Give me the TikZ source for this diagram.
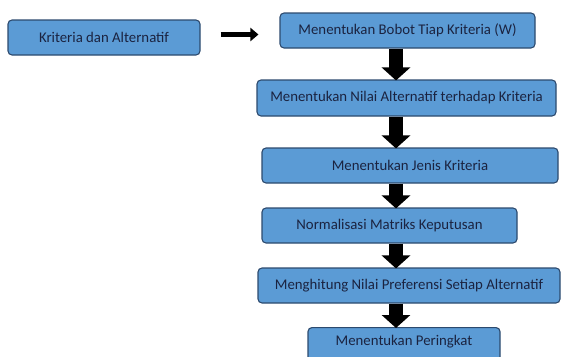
\documentclass[tikz,border=0pt]{standalone}
\usepackage{fontspec}
\setmainfont{Carlito}
\usetikzlibrary{arrows.meta}
\definecolor{boxfill}{HTML}{5B9BD5}
\definecolor{boxline}{HTML}{2C4A6E}
\definecolor{txt}{HTML}{1B2340}
\begin{document}
\begin{tikzpicture}[x=1pt,y=-1pt,
  flowbox/.style={draw=boxline, line width=1.1pt, fill=boxfill, rounded corners=4pt,
    text=txt, font=\fontsize{14.8}{16}\selectfont, inner sep=0pt},
  bigarrow/.style={line width=14pt, -{Triangle[length=13pt,width=28pt]}},
  smallarrow/.style={line width=5pt, -{Triangle[length=8pt,width=13pt]}}]
\useasboundingbox (0,0) rectangle (562,356);
\node[flowbox, minimum width=192pt, minimum height=35pt] (b1) at (104,37.5) {Kriteria dan Alternatif};
\node[flowbox, minimum width=255pt, minimum height=35pt] (b2) at (407.5,30.5) {Menentukan Bobot Tiap Kriteria (W)};
\node[flowbox, minimum width=299pt, minimum height=36pt] (b3) at (406.5,98) {Menentukan Nilai Alternatif terhadap Kriteria};
\node[flowbox, minimum width=296pt, minimum height=35pt] (b4) at (410,165.5) {Menentukan Jenis Kriteria};
\node[flowbox, minimum width=255pt, minimum height=35pt] (b5) at (389.5,225.5) {Normalisasi Matriks Keputusan};
\node[flowbox, minimum width=302pt, minimum height=35pt] (b6) at (409,285.5) {Menghitung Nilai Preferensi Setiap Alternatif};
\node[flowbox, minimum width=192pt, minimum height=40pt, anchor=north] (b7) at (404,327) {};
\node[text=txt, font=\fontsize{14.8}{16}\selectfont] (t7) at (404,342) {Menentukan Peringkat};
\coordinate (ax) at (396,0);
\draw[smallarrow, shorten <=20pt, shorten >=21pt] ([yshift=3pt]b1.east) -- ([yshift=3pt]b1.east -| b2.west);
\draw[bigarrow] (b2.south -| ax) -- ([yshift=-1pt]b3.north -| ax);
\draw[bigarrow] (b3.south -| ax) -- ([yshift=-1pt]b4.north -| ax);
\draw[bigarrow] (b4.south -| ax) -- ([yshift=-1pt]b5.north -| ax);
\draw[bigarrow] (b5.south -| ax) -- ([yshift=-1pt]b6.north -| ax);
\draw[bigarrow] (b6.south -| ax) -- ([yshift=-1pt]b7.north -| ax);
\end{tikzpicture}
\end{document}
